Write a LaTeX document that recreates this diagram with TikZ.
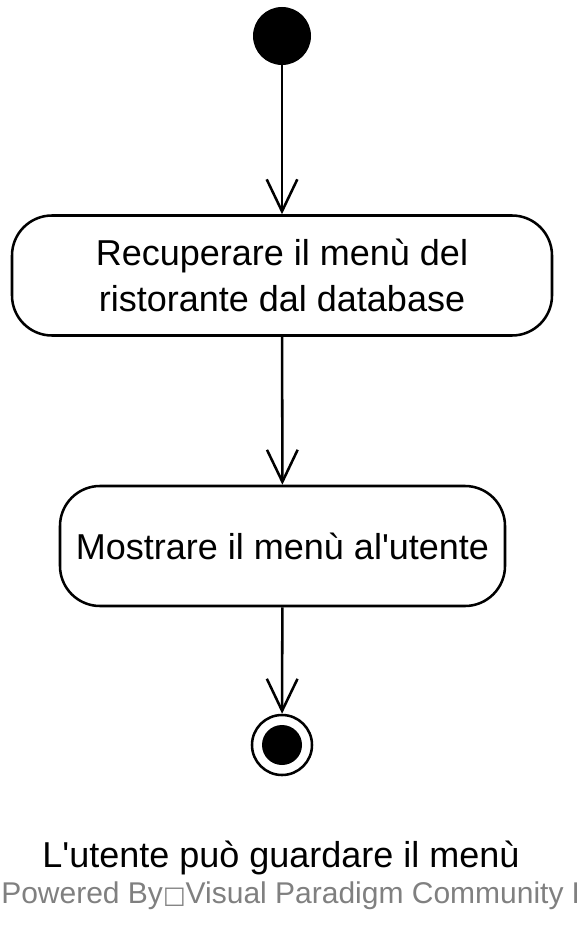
\documentclass[tikz,border=0pt]{standalone}
\usepackage{fontspec}
\setmainfont{Liberation Sans}
\newfontfamily\boxfont{DejaVu Sans}
\usetikzlibrary{arrows.meta,positioning}

\begin{document}
\begin{tikzpicture}[
    x=0.75pt, y=-0.75pt,
    actbox/.style={rectangle, draw, line width=1.9pt, rounded corners=30pt, align=center, font=\fontsize{27}{35}\selectfont, inner sep=0pt},
    flow/.style={-{Straight Barb[length=24pt, width=23pt, line width=1.9pt]}, line width=1.9pt},
    note/.style={font=\fontsize{27}{35}\selectfont, inner sep=0pt}
]
\useasboundingbox (0,0) rectangle (576,945);
% start and end points
\node[circle, fill=black, minimum size=43.5pt, inner sep=0pt] (start) at (282,36) {};
\node[circle, draw, line width=1.9pt, minimum size=45pt, inner sep=0pt] (stop) at (282,745) {};
\fill (stop.center) circle (15pt);

% actions
\node[actbox, minimum width=405pt, minimum height=90pt] (fetch) at (282,275.5) {Recuperare il menù del\\ristorante dal database};
\node[actbox, minimum width=333.75pt, minimum height=90pt] (show) at (282.5,546) {Mostrare il menù al\textquotesingle utente};

% transitions
\draw[flow] (start) -- (fetch);
\draw[flow] (fetch) -- (show);
\draw[flow] (show) -- (stop);

% captions
\node[note] (caption) at (281,858) {L\textquotesingle utente può guardare il menù};
\begin{scope}
  \clip (0,870) rectangle (576,925);
  \node[note, anchor=west, text=black!50, font=\fontsize{22.5}{26}\selectfont] (credit) at (1,896) {Powered By{\boxfont\fontsize{18}{26}\selectfont □}Visual Paradigm Community Edition};
\end{scope}
\end{tikzpicture}
\end{document}
